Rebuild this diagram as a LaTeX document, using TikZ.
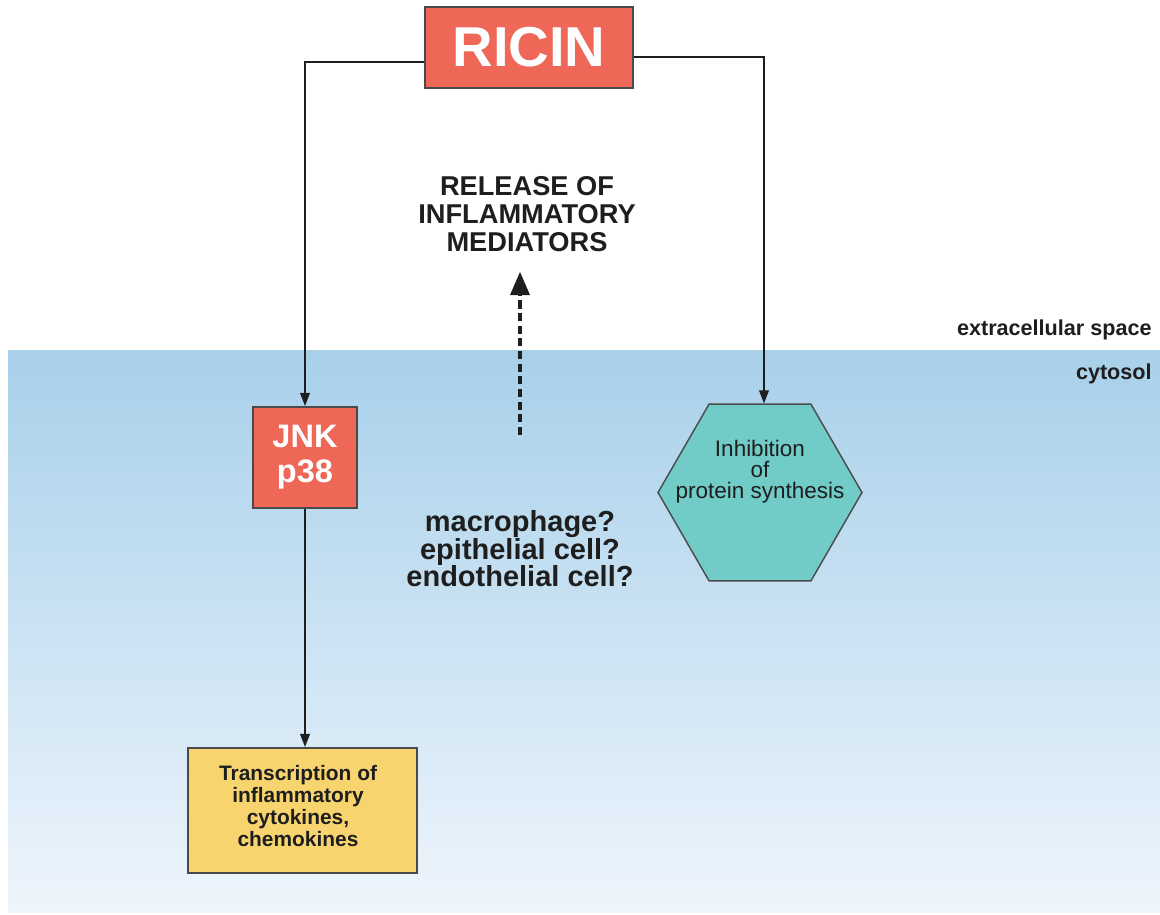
\documentclass[tikz,border=0pt]{standalone}
\usepackage{fontspec}
\setmainfont{Liberation Sans}
\usetikzlibrary{arrows.meta,shapes.geometric}
\definecolor{ricinred}{HTML}{EF6757}
\definecolor{boxedge}{HTML}{4A4A4A}
\definecolor{hexfill}{HTML}{71CBC6}
\definecolor{yellowbox}{HTML}{F8D46F}
\definecolor{cyttop}{HTML}{A8D0EA}
\definecolor{cytbot}{HTML}{EEF5FC}
\definecolor{ink}{HTML}{1E1E1E}
\tikzset{
  redbox/.style={draw=boxedge, line width=1.1pt, fill=ricinred, text=white, font=\bfseries, align=center, inner sep=0pt},
  conn/.style={draw=ink, line width=1.1pt, -{Triangle[length=7.5pt,width=5.5pt]}},
  label/.style={text=ink, font=\bfseries, align=center, inner sep=0pt},
}
\begin{document}
\begin{tikzpicture}[x=0.02cm, y=-0.02cm]
\useasboundingbox (0,0) rectangle (1160,914);
\fill[white] (0,0) rectangle (1160,914);
\fill[top color=cyttop, bottom color=cytbot] (8,350) rectangle (1160,912);

\node[redbox, minimum width=4.16cm, minimum height=1.62cm, font=\bfseries\fontsize{32}{38}\selectfont] (ricin) at (529,47.5) {RICIN};
\node[redbox, minimum width=2.08cm, minimum height=2.02cm, font=\bfseries\fontsize{18.5}{20}\selectfont] (jnk) at (305,457.5) {JNK\\p38};
\node[regular polygon, regular polygon sides=6, minimum size=4.08cm, inner sep=0pt, draw=boxedge, line width=0.8pt, fill=hexfill] (hex) at (760,492.5) {};
\node[text=ink, align=center, inner sep=0pt, font=\fontsize{12.8}{12}\selectfont] (hextext) at (760,472) {Inhibition\\of\\protein synthesis};
\node[draw=boxedge, line width=1.1pt, fill=yellowbox, minimum width=4.58cm, minimum height=2.5cm, inner sep=0pt] (trans) at (302.5,810.5) {};
\node[label, font=\bfseries\fontsize{11.9}{12.5}\selectfont] (transtext) at (298,806) {Transcription of\\inflammatory\\cytokines,\\chemokines};

\node[label, font=\bfseries\fontsize{15.5}{15.8}\selectfont] (release) at (527,214) {RELEASE OF\\INFLAMMATORY\\MEDIATORS};
\node[label, font=\bfseries\fontsize{16.5}{15.6}\selectfont] (cells) at (520,549) {macrophage?\\epithelial cell?\\endothelial cell?};
\node[label, anchor=east, font=\bfseries\fontsize{12.3}{14}\selectfont] (extra) at (1152,330) {extracellular space};
\node[label, anchor=east, font=\bfseries\fontsize{12.3}{14}\selectfont] (cyto) at (1152,374) {cytosol};

\coordinate (lrow) at (0,62);
\coordinate (rrow) at (0,57);
\coordinate (dashbot) at (520,435);
\coordinate (dashtop) at (520,272);

\draw[conn] (ricin.west |- lrow) -| (jnk.north);
\draw[conn] (ricin.east |- rrow) -| ([xshift=0.08cm]hex.north);
\draw[conn] (jnk.south) -- (jnk.south |- trans.north);
\draw[ink, line width=2.8pt, dash pattern=on 4.6pt off 2.6pt] (dashbot) -- ([yshift=-12pt]dashtop);
\fill[ink] (dashtop) -- ++(-10,23) -- ++(20,0) -- cycle;
\end{tikzpicture}
\end{document}
